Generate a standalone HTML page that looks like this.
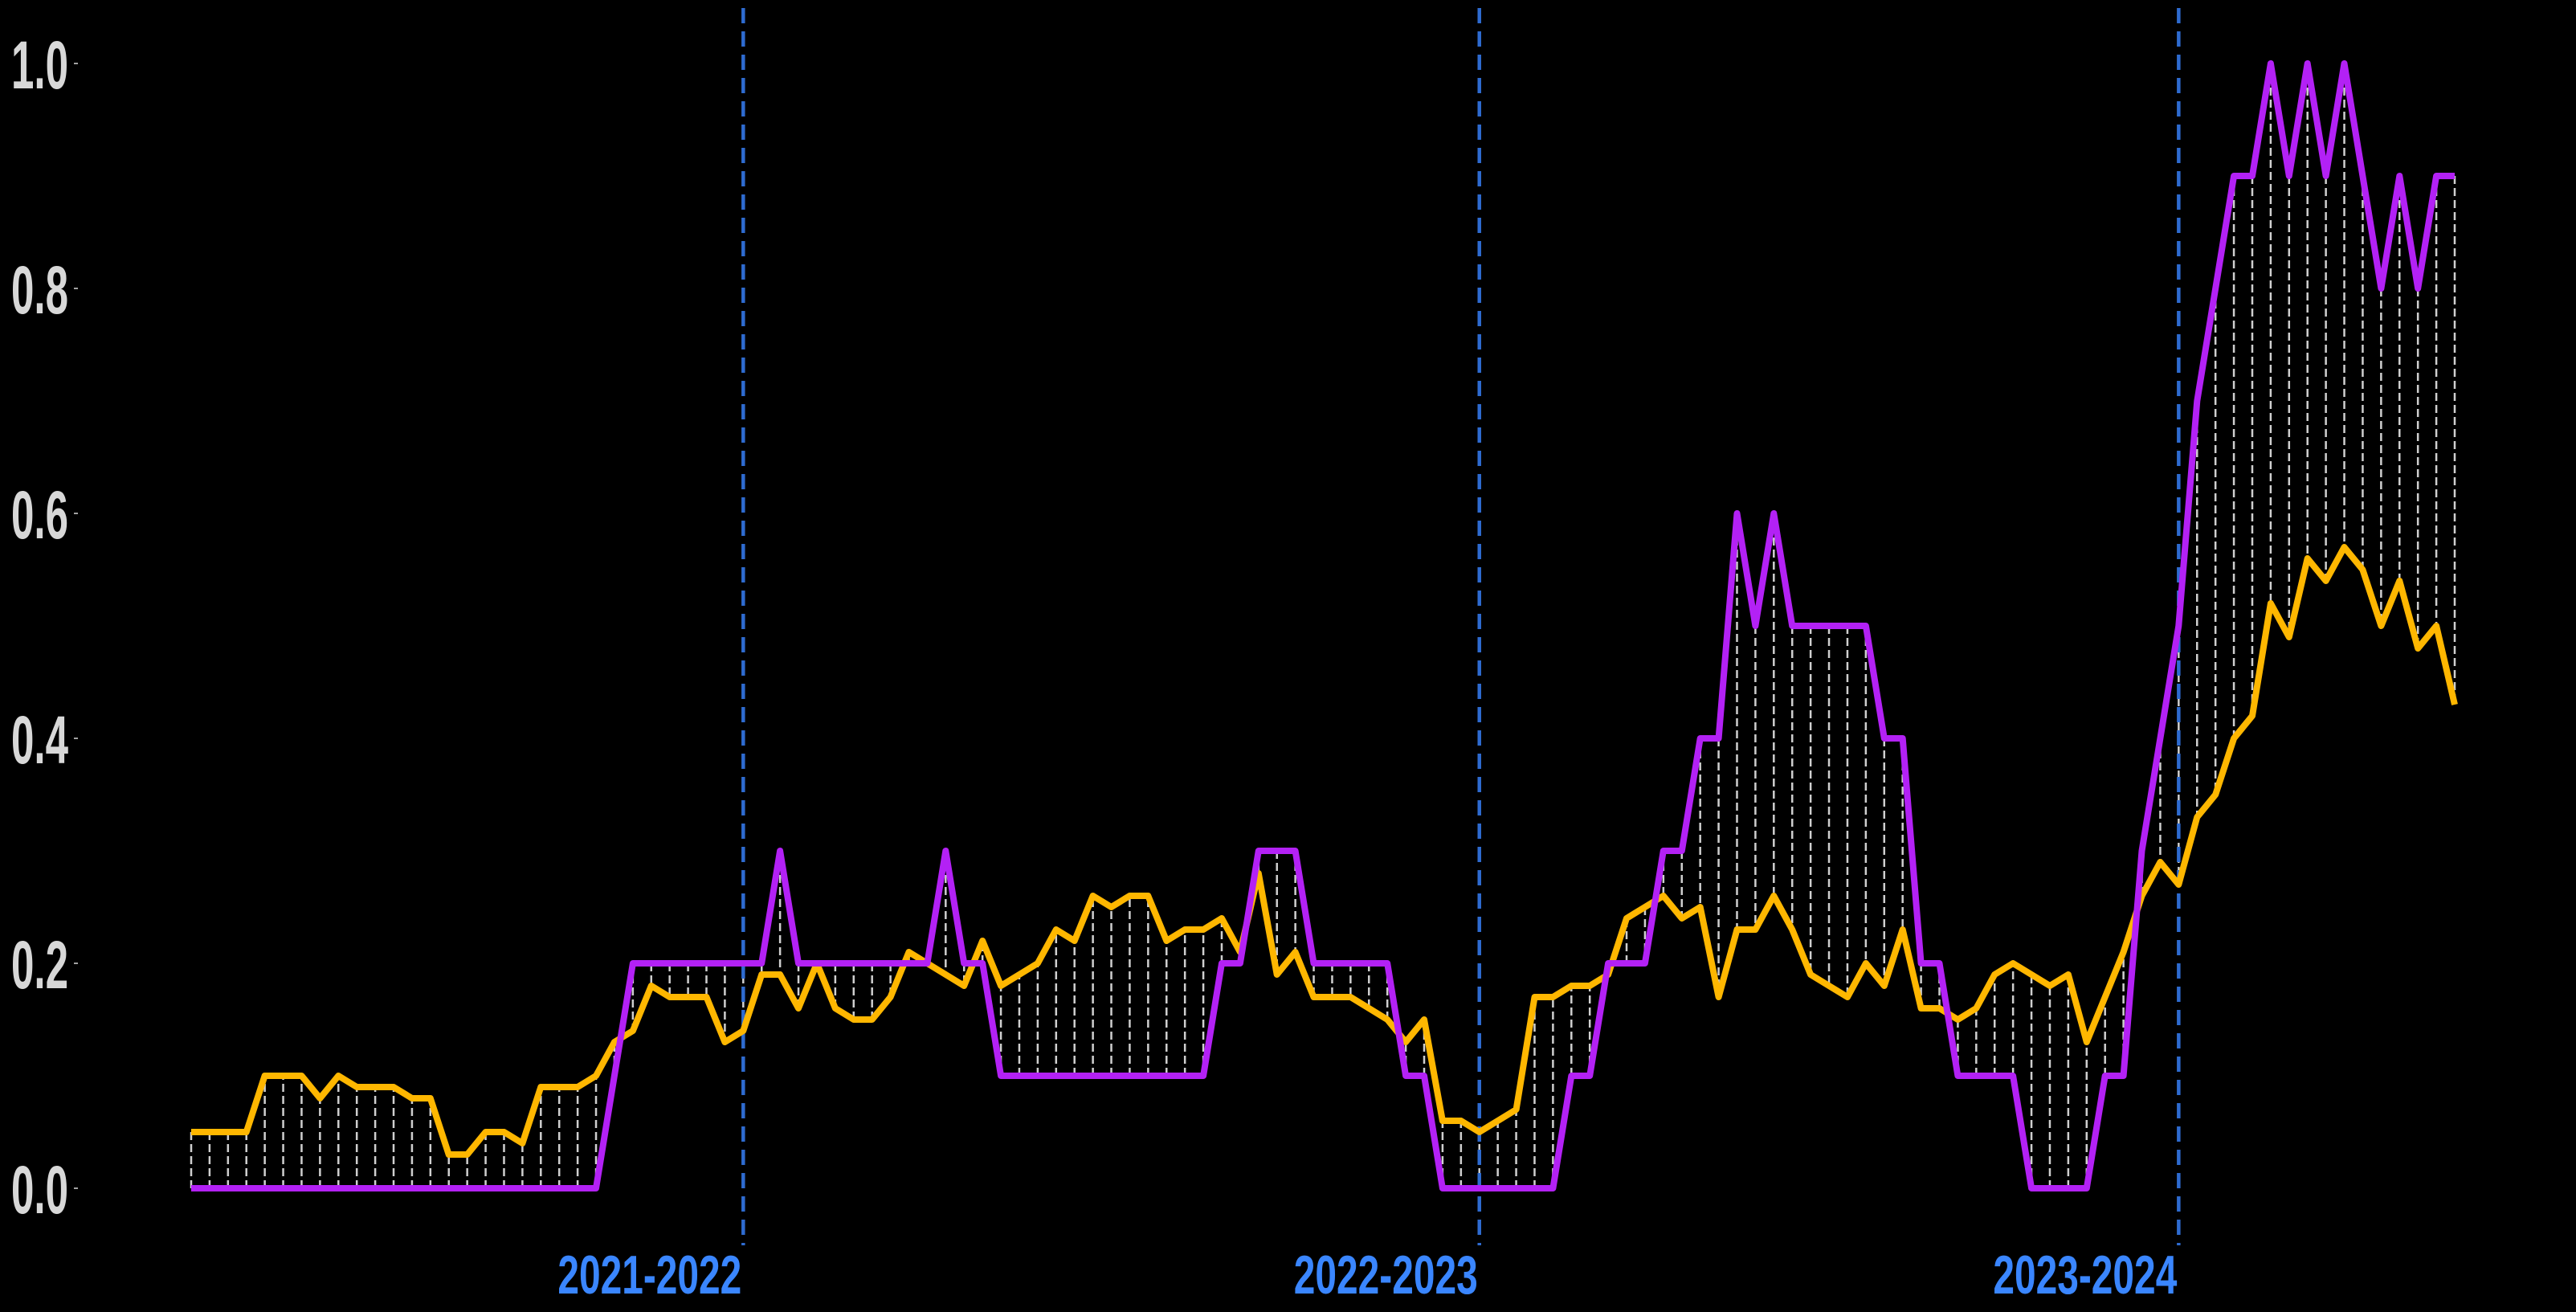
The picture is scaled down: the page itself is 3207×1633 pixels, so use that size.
<!DOCTYPE html>
<html><head><meta charset="utf-8"><style>
html,body{margin:0;padding:0;background:#000;}
svg{display:block;}
text{font-family:"Liberation Sans",sans-serif;font-weight:bold;}
</style></head><body>
<svg id="chart" width="3207" height="1633" viewBox="0 0 3207 1633" xmlns="http://www.w3.org/2000/svg">
<rect x="0" y="0" width="3207" height="1633" fill="#000"/>
<g id="dropLines"></g>
<g id="seasonLines"></g>
<g id="series"></g>
<g id="yAxis"></g>
</svg>
<script>
const purpleVals = [0,0,0,0,0,0,0,0,0,0,0,0,0,0,0,0,0,0,0,0,0,0,0,0.1,0.2,0.2,0.2,0.2,0.2,0.2,0.2,0.2,0.3,0.2,0.2,0.2,0.2,0.2,0.2,0.2,0.2,0.3,0.2,0.2,0.1,0.1,0.1,0.1,0.1,0.1,0.1,0.1,0.1,0.1,0.1,0.1,0.2,0.2,0.3,0.3,0.3,0.2,0.2,0.2,0.2,0.2,0.1,0.1,0,0,0,0,0,0,0,0.1,0.1,0.2,0.2,0.2,0.3,0.3,0.4,0.4,0.6,0.5,0.6,0.5,0.5,0.5,0.5,0.5,0.4,0.4,0.2,0.2,0.1,0.1,0.1,0.1,0,0,0,0,0.1,0.1,0.3,0.4,0.5,0.7,0.8,0.9,0.9,1.0,0.9,1.0,0.9,1.0,0.9,0.8,0.9,0.8,0.9,0.9];
const yellowVals = [0.05,0.05,0.05,0.05,0.10,0.10,0.10,0.08,0.10,0.09,0.09,0.09,0.08,0.08,0.03,0.03,0.05,0.05,0.04,0.09,0.09,0.09,0.10,0.13,0.14,0.18,0.17,0.17,0.17,0.13,0.14,0.19,0.19,0.16,0.20,0.16,0.15,0.15,0.17,0.21,0.20,0.19,0.18,0.22,0.18,0.19,0.20,0.23,0.22,0.26,0.25,0.26,0.26,0.22,0.23,0.23,0.24,0.21,0.28,0.19,0.21,0.17,0.17,0.17,0.16,0.15,0.13,0.15,0.06,0.06,0.05,0.06,0.07,0.17,0.17,0.18,0.18,0.19,0.24,0.25,0.26,0.24,0.25,0.17,0.23,0.23,0.26,0.23,0.19,0.18,0.17,0.20,0.18,0.23,0.16,0.16,0.15,0.16,0.19,0.20,0.19,0.18,0.19,0.13,0.17,0.21,0.26,0.29,0.27,0.33,0.35,0.40,0.42,0.52,0.49,0.56,0.54,0.57,0.55,0.50,0.54,0.48,0.50,0.43];
const seasonIdx = [30,70,108];
const seasonLabels = ["2021-2022","2022-2023","2023-2024"];
const yTicks = [0,0.2,0.4,0.6,0.8,1.0];
const yTickLabels = ["0.0","0.2","0.4","0.6","0.8","1.0"];

const NS="http://www.w3.org/2000/svg";
const X0=238, X1=3056, Y0=1479, Y1=79;
function xs(i){return X0+(X1-X0)*i/(purpleVals.length-1);}
function ys(v){return Y0+(Y1-Y0)*v;}
function mk(tag,attrs,parent){const e=document.createElementNS(NS,tag);for(const k in attrs)e.setAttribute(k,attrs[k]);parent.appendChild(e);return e;}

const drop=document.getElementById('dropLines');
for(let i=0;i<purpleVals.length;i++){
  const l=mk('line',{x1:xs(i),x2:xs(i),y1:ys(purpleVals[i]),y2:ys(yellowVals[i]),stroke:'#cfcfcf','stroke-width':2.5,'stroke-dasharray':'10 5'},drop);
  
  
}
const sl=document.getElementById('seasonLines');
for(let j=0;j<seasonIdx.length;j++){
  const x=xs(seasonIdx[j]);
  const l=mk('line',{x1:x,x2:x,y1:10,y2:1550,stroke:'#2e6bd0','stroke-width':4.5,'stroke-dasharray':'19 10'},sl);
  
  
  const t=mk('text',{x:x-231,y:1610,'font-size':68,fill:'#3a86ff',textLength:229,lengthAdjust:'spacingAndGlyphs'},sl);
  t.textContent=seasonLabels[j];
  
  
}
const ser=document.getElementById('series');
function path(vals){return vals.map((v,i)=>(i?'L':'M')+xs(i).toFixed(1)+' '+ys(v).toFixed(1)).join(' ');}
const py=mk('path',{d:path(yellowVals),fill:'none',stroke:'#ffb700','stroke-width':8,'stroke-linejoin':'round'},ser);


const pp=mk('path',{d:path(purpleVals),fill:'none',stroke:'#b321f5','stroke-width':8,'stroke-linejoin':'round'},ser);



const ya=document.getElementById('yAxis');
for(let j=0;j<yTicks.length;j++){
  const y=ys(yTicks[j]);
  const tk=mk('line',{x1:92,x2:97,y1:y,y2:y,stroke:'#d8d8d8','stroke-width':1.5},ya);
  
  
  const t=mk('text',{x:14,y:y+31,'font-size':84,fill:'#d8d8d8',textLength:71,lengthAdjust:'spacingAndGlyphs'},ya);
  t.textContent=yTickLabels[j];
  
  
}
</script>
</body></html>
